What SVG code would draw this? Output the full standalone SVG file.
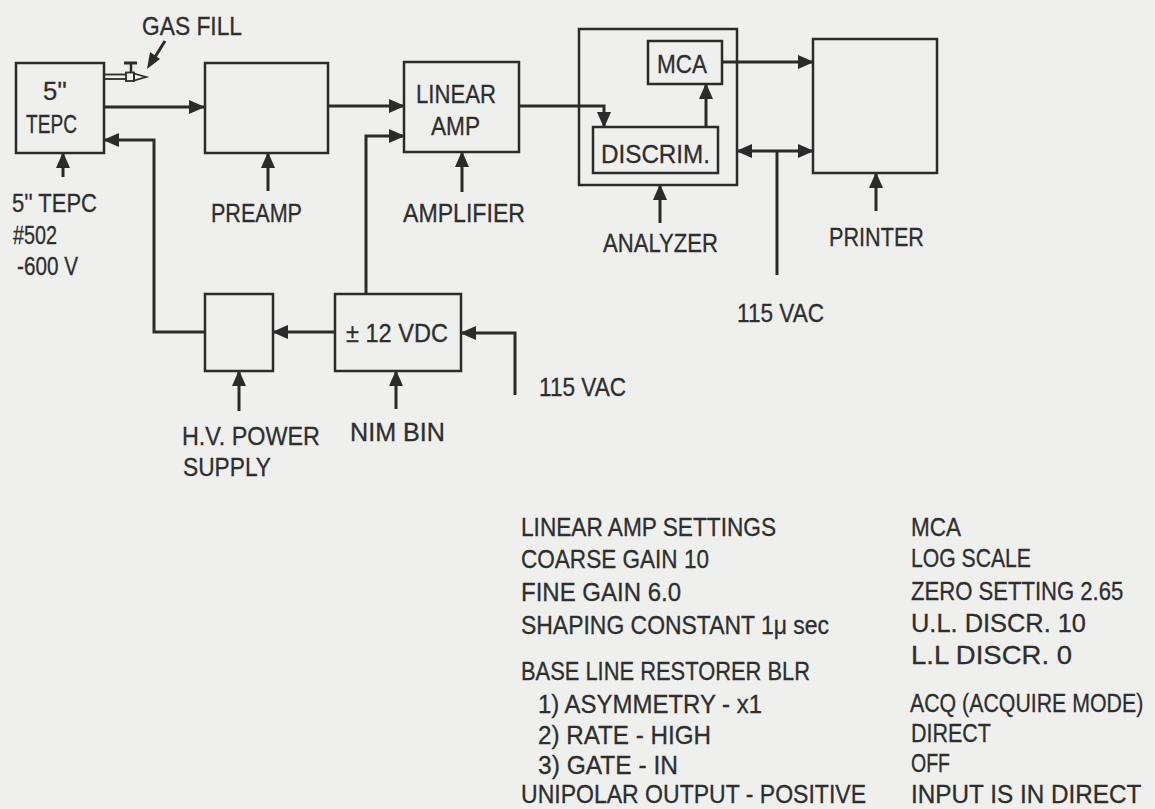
<svg xmlns="http://www.w3.org/2000/svg" width="1155" height="809" viewBox="0 0 1155 809">
<style>
.box{fill:none;stroke:#2b2b2b;stroke-width:2.5}
.ln{fill:none;stroke:#2b2b2b;stroke-width:3}
.ar{fill:none;stroke:#2b2b2b;stroke-width:3;marker-end:url(#ah)}
.t{font-family:"Liberation Sans",Arial,sans-serif;font-size:26px;fill:#2e2e2e;stroke:#2e2e2e;stroke-width:0.3}
.tb{font-family:"Liberation Sans",Arial,sans-serif;font-size:26px;fill:#2e2e2e;stroke:#2e2e2e;stroke-width:0.3}
</style>
<defs>
<marker id="ah" markerWidth="16" markerHeight="16" refX="15" refY="8" orient="auto" markerUnits="userSpaceOnUse">
<path d="M0,1 L16,8 L0,15 z" fill="#2b2b2b"/>
</marker>
</defs>
<rect x="0" y="0" width="1155" height="809" fill="#efefed"/>

<g id="connectors">
<path class="ar" d="M104,107 H204"/>
<path class="ar" d="M328,106 H404"/>
<path class="ar" d="M366,294 V136 H404"/>
<path class="ar" d="M205,332 H154 V140 H104"/>
<path class="ar" d="M335,332 H273"/>
<path class="ar" d="M515,395 V333 H461"/>
<path class="ar" d="M519,106 H604 V127"/>
<path class="ar" d="M706,127 V84"/>
<path class="ar" d="M722,62 H813"/>
<path class="ln" d="M777,275 V151"/>
<path class="ar" d="M777,151 H737"/>
<path class="ar" d="M777,151 H813"/>
<path class="ar" d="M63,177 V153"/>
<path class="ar" d="M268,191 V153"/>
<path class="ar" d="M462,192 V152"/>
<path class="ar" d="M660,223 V185"/>
<path class="ar" d="M876,211 V173"/>
<path class="ar" d="M239,411 V371"/>
<path class="ar" d="M396,409 V371"/>
<line x1="165" y1="41" x2="155" y2="57" stroke="#2b2b2b" stroke-width="3"/>
<polygon points="147,69 160,59 150,52" fill="#2b2b2b"/>
</g>

<g id="gasfill">
<line x1="104" y1="74.5" x2="126" y2="74.5" stroke="#2b2b2b" stroke-width="1.8"/>
<line x1="104" y1="79" x2="126" y2="79" stroke="#2b2b2b" stroke-width="1.8"/>
<rect x="126" y="72.5" width="8" height="8.5" fill="none" stroke="#2b2b2b" stroke-width="1.8"/>
<line x1="131" y1="63" x2="131" y2="72.5" stroke="#2b2b2b" stroke-width="2.5"/>
<line x1="124" y1="63" x2="137" y2="63" stroke="#2b2b2b" stroke-width="3"/>
<polygon points="134,73.5 146,77 134,80.5" fill="none" stroke="#2b2b2b" stroke-width="1.8"/>
<text class="t" x="142" y="35" textLength="100" lengthAdjust="spacingAndGlyphs">GAS FILL</text>
</g>

<g id="tepc">
<rect class="box" x="16" y="63" width="88" height="90"/>
<text class="t" x="43" y="100" textLength="24" lengthAdjust="spacingAndGlyphs">5''</text>
<text class="t" x="26" y="133" textLength="51" lengthAdjust="spacingAndGlyphs">TEPC</text>
<text class="t" x="12" y="212" textLength="85" lengthAdjust="spacingAndGlyphs">5'' TEPC</text>
<text class="t" x="13" y="244" textLength="44" lengthAdjust="spacingAndGlyphs">#502</text>
<text class="t" x="17" y="275" textLength="61" lengthAdjust="spacingAndGlyphs">-600 V</text>
</g>

<g id="preamp">
<rect class="box" x="205" y="63" width="123" height="90"/>
<text class="t" x="211" y="222" textLength="91" lengthAdjust="spacingAndGlyphs">PREAMP</text>
</g>

<g id="linearamp">
<rect class="box" x="404" y="62" width="115" height="90"/>
<text class="t" x="416" y="103" textLength="80" lengthAdjust="spacingAndGlyphs">LINEAR</text>
<text class="t" x="431" y="135" textLength="49" lengthAdjust="spacingAndGlyphs">AMP</text>
<text class="t" x="403" y="222" textLength="122" lengthAdjust="spacingAndGlyphs">AMPLIFIER</text>
</g>

<g id="analyzer">
<rect class="box" x="579" y="29" width="158" height="156"/>
<text class="t" x="603" y="252" textLength="115" lengthAdjust="spacingAndGlyphs">ANALYZER</text>
</g>

<g id="mca">
<rect class="box" x="648" y="41" width="74" height="43"/>
<text class="t" x="657" y="73" textLength="50" lengthAdjust="spacingAndGlyphs">MCA</text>
</g>

<g id="discrim">
<rect class="box" x="593" y="127" width="125" height="46"/>
<text class="t" x="601" y="163" textLength="109" lengthAdjust="spacingAndGlyphs">DISCRIM.</text>
</g>

<g id="printer">
<rect class="box" x="813" y="39" width="124" height="134"/>
<text class="t" x="829" y="246" textLength="95" lengthAdjust="spacingAndGlyphs">PRINTER</text>
</g>

<g id="vac-analyzer">
<text class="t" x="737" y="322" textLength="87" lengthAdjust="spacingAndGlyphs">115 VAC</text>
</g>

<g id="hvsupply">
<rect class="box" x="205" y="294" width="68" height="77"/>
<text class="t" x="182" y="445" textLength="138" lengthAdjust="spacingAndGlyphs">H.V. POWER</text>
<text class="t" x="183" y="476" textLength="88" lengthAdjust="spacingAndGlyphs">SUPPLY</text>
</g>

<g id="nimbin">
<rect class="box" x="335" y="294" width="126" height="77"/>
<text class="t" x="346" y="342" textLength="102" lengthAdjust="spacingAndGlyphs">± 12 VDC</text>
<text class="t" x="350" y="441" textLength="95" lengthAdjust="spacingAndGlyphs">NIM BIN</text>
</g>

<g id="vac-nim">
<text class="t" x="539" y="396" textLength="87" lengthAdjust="spacingAndGlyphs">115 VAC</text>
</g>

<g id="settings-linear">
<text class="tb" x="521" y="536" textLength="255" lengthAdjust="spacingAndGlyphs">LINEAR AMP SETTINGS</text>
<text class="tb" x="521" y="568" textLength="188" lengthAdjust="spacingAndGlyphs">COARSE GAIN 10</text>
<text class="tb" x="521" y="601" textLength="160" lengthAdjust="spacingAndGlyphs">FINE GAIN 6.0</text>
<text class="tb" x="521" y="634" textLength="308" lengthAdjust="spacingAndGlyphs">SHAPING CONSTANT 1μ sec</text>
<text class="tb" x="521" y="680" textLength="289" lengthAdjust="spacingAndGlyphs">BASE LINE RESTORER BLR</text>
<text class="tb" x="538" y="713" textLength="224" lengthAdjust="spacingAndGlyphs">1) ASYMMETRY - x1</text>
<text class="tb" x="538" y="744" textLength="173" lengthAdjust="spacingAndGlyphs">2) RATE - HIGH</text>
<text class="tb" x="538" y="774" textLength="140" lengthAdjust="spacingAndGlyphs">3) GATE - IN</text>
<text class="tb" x="521" y="803" textLength="345" lengthAdjust="spacingAndGlyphs">UNIPOLAR OUTPUT - POSITIVE</text>
</g>

<g id="settings-mca">
<text class="tb" x="911" y="536" textLength="50" lengthAdjust="spacingAndGlyphs">MCA</text>
<text class="tb" x="911" y="567" textLength="120" lengthAdjust="spacingAndGlyphs">LOG SCALE</text>
<text class="tb" transform="translate(911,600) scale(0.85,1)">ZERO SETTING 2.65</text>
<text class="tb" x="911" y="632" textLength="175" lengthAdjust="spacingAndGlyphs">U.L. DISCR. 10</text>
<text class="tb" x="911" y="664" textLength="161" lengthAdjust="spacingAndGlyphs">L.L DISCR. 0</text>
<text class="tb" transform="translate(910,712) scale(0.82,1)">ACQ (ACQUIRE MODE)</text>
<text class="tb" x="911" y="742" textLength="80" lengthAdjust="spacingAndGlyphs">DIRECT</text>
<text class="tb" x="911" y="772" textLength="39" lengthAdjust="spacingAndGlyphs">OFF</text>
<text class="tb" transform="translate(911,803) scale(0.935,1)">INPUT IS IN DIRECT</text>
</g>
</svg>
